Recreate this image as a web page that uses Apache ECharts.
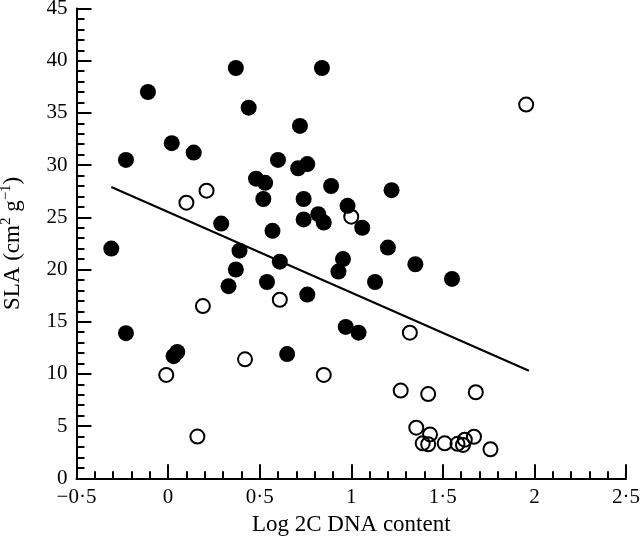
<!DOCTYPE html>
<html>
<head>
<meta charset="utf-8">
<script src="https://cdn.jsdelivr.net/npm/echarts@6/dist/echarts.min.js"></script>
<style>
html,body{margin:0;padding:0;background:#fff;}
#chart{width:640px;height:542px;}
</style>
</head>
<body>
<div id="chart"></div>
<script>
// Filled circles: [log 2C DNA content, SLA]
var filledPoints = [
  [-0.31,22.0],[-0.23,30.5],[-0.23,13.9],[-0.11,37.0],[0.02,32.1],[0.14,31.2],
  [0.03,11.7],[0.05,12.1],[0.29,24.4],[0.33,18.4],[0.37,39.3],[0.37,20.0],
  [0.39,21.8],[0.44,35.5],[0.48,28.7],[0.53,28.3],[0.52,26.75],[0.60,30.5],
  [0.57,23.7],[0.54,18.8],[0.61,20.75],[0.65,11.9],[0.76,17.6],[0.72,33.75],
  [0.71,29.7],[0.76,30.1],[0.74,26.75],[0.74,24.8],[0.82,25.3],[0.85,24.5],
  [0.84,39.3],[0.89,28.0],[0.98,26.1],[1.06,24.0],[1.22,27.6],[1.20,22.1],
  [0.955,21.0],[0.93,19.8],[1.35,20.5],[1.55,19.1],[1.13,18.8],[0.97,14.5],
  [1.04,13.95]
];
// Open circles
var openPoints = [
  [-0.01,9.9],[0.10,26.4],[0.21,27.55],[0.19,16.5],[0.16,4.0],[0.42,11.4],
  [0.61,17.1],[0.85,9.9],[1.00,25.06],[1.32,13.95],[1.27,8.4],[1.42,8.07],
  [1.68,8.24],[1.355,4.85],[1.43,4.2],[1.39,3.35],[1.42,3.26],[1.51,3.35],
  [1.58,3.3],[1.61,3.2],[1.62,3.7],[1.67,3.98],[1.76,2.78],[1.955,35.8]
];
// Regression line end points
var lineX = [-0.31, 1.97];
var lineY = [27.9, 10.3];
// Axis settings
var xTicks = [-0.5, 0, 0.5, 1, 1.5, 2, 2.5];
var yTicks = [0, 5, 10, 15, 20, 25, 30, 35, 40, 45];

var FONT = '"Liberation Serif", "Times New Roman", serif';
var chart = echarts.init(document.getElementById('chart'), null, {renderer: 'canvas'});

function fmtX(v) {
  var s = String(Math.abs(Math.round(v * 10) / 10)).replace('.', '\u00B7');
  return (v < 0 ? '\u2212' : '') + s;
}

var axisCommon = {
  axisLine: {show: true, onZero: false, lineStyle: {color: '#000', width: 2}},
  splitLine: {show: false},
  axisLabel: {color: '#000', fontFamily: FONT, fontSize: 21, showMinLabel: true, showMaxLabel: true},
  nameTextStyle: {color: '#000', fontFamily: FONT, fontSize: 23}
};

chart.setOption({
  backgroundColor: '#fff',
  animation: false,
  grid: {left: 76.5, right: 14, top: 8.5, bottom: 63.7, containLabel: false, outerBoundsMode: 'none'},
  xAxis: Object.assign({}, axisCommon, {
    type: 'value',
    min: xTicks[0], max: xTicks[xTicks.length - 1], interval: 0.5,
    name: 'Log 2C DNA content',
    nameLocation: 'middle', nameGap: 34,
    axisTick: {show: true, inside: true, length: 14, lineStyle: {color: '#000', width: 2}},
    minorTick: {show: true, splitNumber: 5, length: 7, lineStyle: {color: '#000', width: 2}},
    axisLabel: Object.assign({}, axisCommon.axisLabel, {margin: 9, formatter: fmtX})
  }),
  yAxis: Object.assign({}, axisCommon, {
    type: 'value',
    min: yTicks[0], max: yTicks[yTicks.length - 1], interval: 5,
    name: '{a|SLA (cm}{s|2}{a| g}{s|\u22121}{a|)}',
    nameLocation: 'middle', nameGap: 49,
    nameTextStyle: {
      color: '#000', fontFamily: FONT, fontSize: 23,
      rich: {
        a: {fontFamily: FONT, fontSize: 23, color: '#000'},
        s: {fontFamily: FONT, fontSize: 15, color: '#000', padding: [0, 0, 14, 0]}
      }
    },
    axisTick: {show: true, inside: true, length: 15, lineStyle: {color: '#000', width: 2}},
    minorTick: {show: true, splitNumber: 5, length: 8, lineStyle: {color: '#000', width: 2}},
    axisLabel: Object.assign({}, axisCommon.axisLabel, {margin: 9})
  }),
  series: [
    {
      type: 'line',
      data: lineX.map(function (x, i) { return [x, lineY[i]]; }),
      showSymbol: false, symbol: 'none',
      lineStyle: {color: '#000', width: 2},
      z: 1, silent: true
    },
    {
      type: 'scatter',
      data: filledPoints,
      symbol: 'circle', symbolSize: 16,
      itemStyle: {color: '#000', opacity: 1},
      z: 2
    },
    {
      type: 'scatter',
      data: openPoints,
      symbol: 'circle', symbolSize: 14,
      itemStyle: {color: 'rgba(0,0,0,0)', borderColor: '#000', borderWidth: 2, opacity: 1},
      z: 3
    }
  ]
});
</script>
</body>
</html>
